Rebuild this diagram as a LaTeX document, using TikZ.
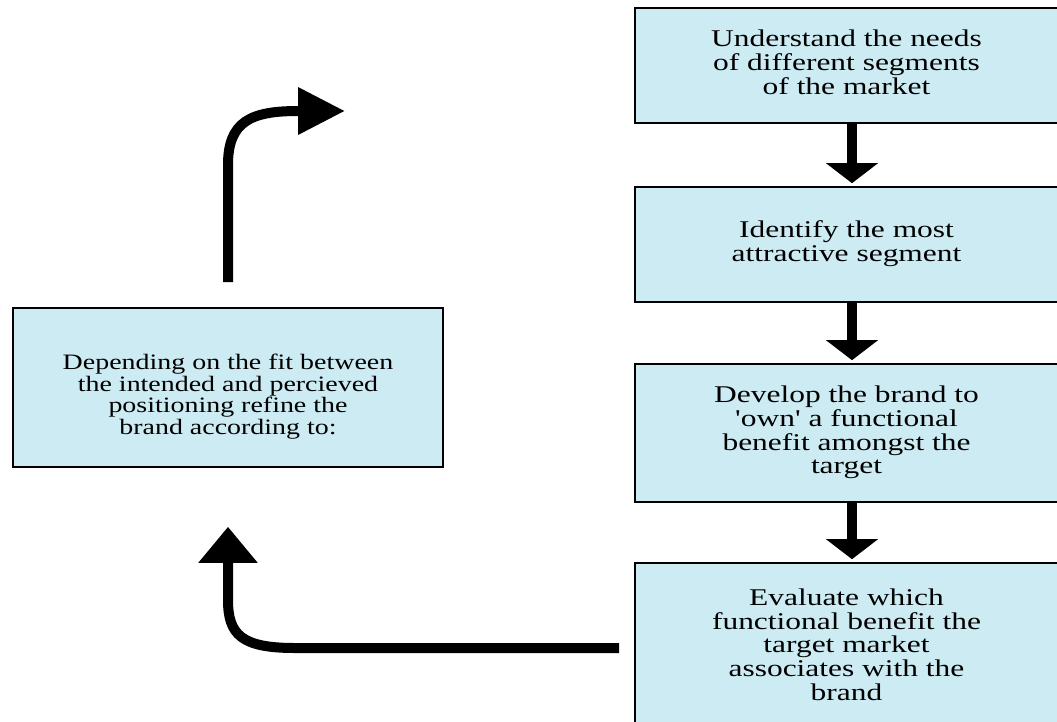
\documentclass[tikz,border=0pt]{standalone}
\usepackage{fontspec}
\setmainfont{Liberation Serif}
\usepackage{graphicx}
\usetikzlibrary{arrows.meta}
\definecolor{boxblue}{RGB}{205,235,243}
\newcommand\boxtxt[2]{\scalebox{#1}[1]{\begin{tabular}{@{}c@{}}#2\end{tabular}}}
\begin{document}
\begin{tikzpicture}[x=1pt,y=-1pt,
  box/.style={draw=black, line width=1.6pt, fill=boxblue, rectangle, inner sep=0pt, minimum width=423pt},
  bigtext/.style={font=\fontsize{24}{23.5}\selectfont},
  smalltext/.style={font=\fontsize{22}{21}\selectfont},
  flow/.style={line width=10pt, -{Triangle[width=51pt,length=20pt]}, shorten >=3pt},
  loopback/.style={line width=10pt, -{Triangle[width=57pt,length=36pt]}},
  loopout/.style={line width=10pt, -{Triangle[width=45pt,length=47pt]}}
]
\clip (0,0) rectangle (1057,721);
\fill[white] (0,0) rectangle (1057,721);

\node[box, bigtext, minimum height=115pt] (b1) at (846.5,65.5)
  {\boxtxt{1.31}{Understand the needs\\of different segments\\of the market}};
\node[box, bigtext, minimum height=115pt] (b2) at (846.5,244.5)
  {\boxtxt{1.31}{Identify the most\\attractive segment}};
\node[box, bigtext, minimum height=138pt] (b3) at (846.5,433)
  {\boxtxt{1.31}{Develop the brand to\\\textquotesingle own\textquotesingle{} a functional\\benefit amongst the\\target}};
\node[box, bigtext, minimum height=170pt] (b4) at (846.5,648)
  {\boxtxt{1.31}{Evaluate which\\functional benefit the\\target market\\associates with the\\brand}};
\node[box, smalltext, minimum width=430pt, minimum height=159pt] (L) at (228,387.5)
  {\raisebox{-10pt}[\height][\depth]{\boxtxt{1.27}{Depending on the fit between\\the intended and percieved\\positioning refine the\\brand according to:}}};

\draw[flow] ([xshift=5.5pt]b1.south) -- ([xshift=5.5pt]b2.north);
\draw[flow] ([xshift=5.5pt]b2.south) -- ([xshift=5.5pt]b3.north);
\draw[flow] ([xshift=5.5pt]b3.south) -- ([xshift=5.5pt]b4.north);

\draw[loopback] ([xshift=-15pt]b4.west) -- (295,648)
  .. controls (242,648) and (228,635) .. (228,600) -- ([yshift=-59pt]L.south);

\coordinate (outtip) at (345,111);
\draw[loopout] ([yshift=25pt]L.north) -- (228,165)
  .. controls (228,122) and (250,111) .. (298,111) -- (outtip);
\end{tikzpicture}
\end{document}
